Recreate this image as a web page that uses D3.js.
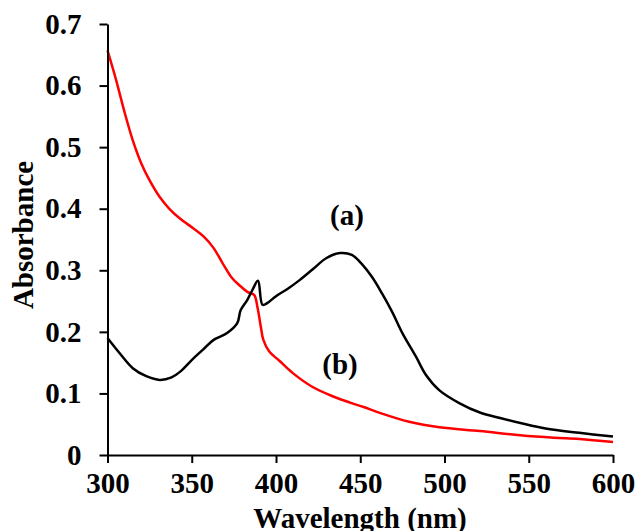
<!doctype html>
<html lang="en">
<head>
<meta charset="utf-8">
<title>Absorbance spectra</title>
<script src="https://cdn.jsdelivr.net/npm/d3@7"></script>
<style>
body { margin: 0; background: #fff; }
svg text { font-family: "Liberation Serif", "Times New Roman", serif; font-weight: bold; }
</style>
</head>
<body>
<div id="chart"></div>
<script>

// curve (a), black
const wlA = [300, 307, 315, 323, 331, 338, 343, 351, 357, 363, 371, 377, 379, 383, 386, 389.3, 392, 395, 400, 407, 414, 422, 430, 438, 445, 451, 457, 463, 469, 475, 483, 489, 497, 509, 521, 533, 545, 560, 580, 600];
const absA = [0.19, 0.166, 0.141, 0.128, 0.122, 0.126, 0.135, 0.157, 0.172, 0.187, 0.198, 0.214, 0.235, 0.252, 0.268, 0.283, 0.244, 0.247, 0.258, 0.27, 0.284, 0.302, 0.32, 0.328, 0.325, 0.31, 0.289, 0.262, 0.232, 0.198, 0.16, 0.13, 0.105, 0.084, 0.069, 0.06, 0.052, 0.043, 0.036, 0.03];

// curve (b), red
const wlB = [300, 305, 310, 315, 320, 325, 331, 337, 343, 351, 357, 363, 368, 374, 379, 383, 387, 389, 391, 392.5, 396, 402, 410, 422, 434, 444, 452, 462, 479, 497, 521, 545, 565, 580, 600];
const absB = [0.657, 0.61, 0.558, 0.511, 0.474, 0.446, 0.419, 0.399, 0.384, 0.368, 0.355, 0.336, 0.313, 0.287, 0.274, 0.265, 0.26, 0.24, 0.208, 0.187, 0.168, 0.153, 0.133, 0.11, 0.095, 0.085, 0.078, 0.068, 0.054, 0.045, 0.039, 0.032, 0.028, 0.026, 0.021];

const xTicks = [300, 350, 400, 450, 500, 550, 600];
const yTicks = [0, 0.1, 0.2, 0.3, 0.4, 0.5, 0.6, 0.7];

const width = 635, height = 531;
const fs = '29px';

const x = d3.scaleLinear().domain([300, 600]).range([107.5, 613]);
const y = d3.scaleLinear().domain([0, 0.7]).range([455, 24]);

const svg = d3.select('#chart').append('svg')
    .attr('width', width)
    .attr('height', height);

const line = d3.line()
    .x(d => x(d[0]))
    .y(d => y(d[1]))
    .curve(d3.curveCatmullRom.alpha(0.5));

svg.append('path')
    .datum(d3.zip(wlB, absB))
    .attr('fill', 'none')
    .attr('stroke', '#ff0000')
    .attr('stroke-width', 2.5)
    .attr('d', line);

svg.append('path')
    .datum(d3.zip(wlA, absA))
    .attr('fill', 'none')
    .attr('stroke', '#000')
    .attr('stroke-width', 2.5)
    .attr('d', line);

const xAxis = svg.append('g')
    .attr('transform', 'translate(0,' + y(0) + ')')
    .call(d3.axisBottom(x).tickValues(xTicks).tickSize(8).tickSizeOuter(0).tickPadding(9).tickFormat(d3.format('d')));

const yAxis = svg.append('g')
    .attr('transform', 'translate(' + x(300) + ',0)')
    .call(d3.axisLeft(y).tickValues(yTicks).tickSize(8).tickSizeOuter(0).tickPadding(18).tickFormat(d => d === 0 ? '0' : d3.format('.1f')(d)));

[xAxis, yAxis].forEach(g => {
    g.selectAll('path, line').attr('stroke', '#000').attr('stroke-width', 2);
    g.selectAll('text').attr('fill', '#000').style('font-size', fs);
});

svg.append('text')
    .attr('x', 360)
    .attr('y', 528)
    .attr('text-anchor', 'middle')
    .style('font-size', fs)
    .text('Wavelength (nm)');

svg.append('text')
    .attr('transform', 'translate(33,235) rotate(-90)')
    .attr('text-anchor', 'middle')
    .style('font-size', fs)
    .text('Absorbance');

svg.append('text')
    .attr('x', 347)
    .attr('y', 225)
    .attr('text-anchor', 'middle')
    .style('font-size', fs)
    .text('(a)');

svg.append('text')
    .attr('x', 340)
    .attr('y', 374)
    .attr('text-anchor', 'middle')
    .style('font-size', fs)
    .text('(b)');

</script>
</body>
</html>
